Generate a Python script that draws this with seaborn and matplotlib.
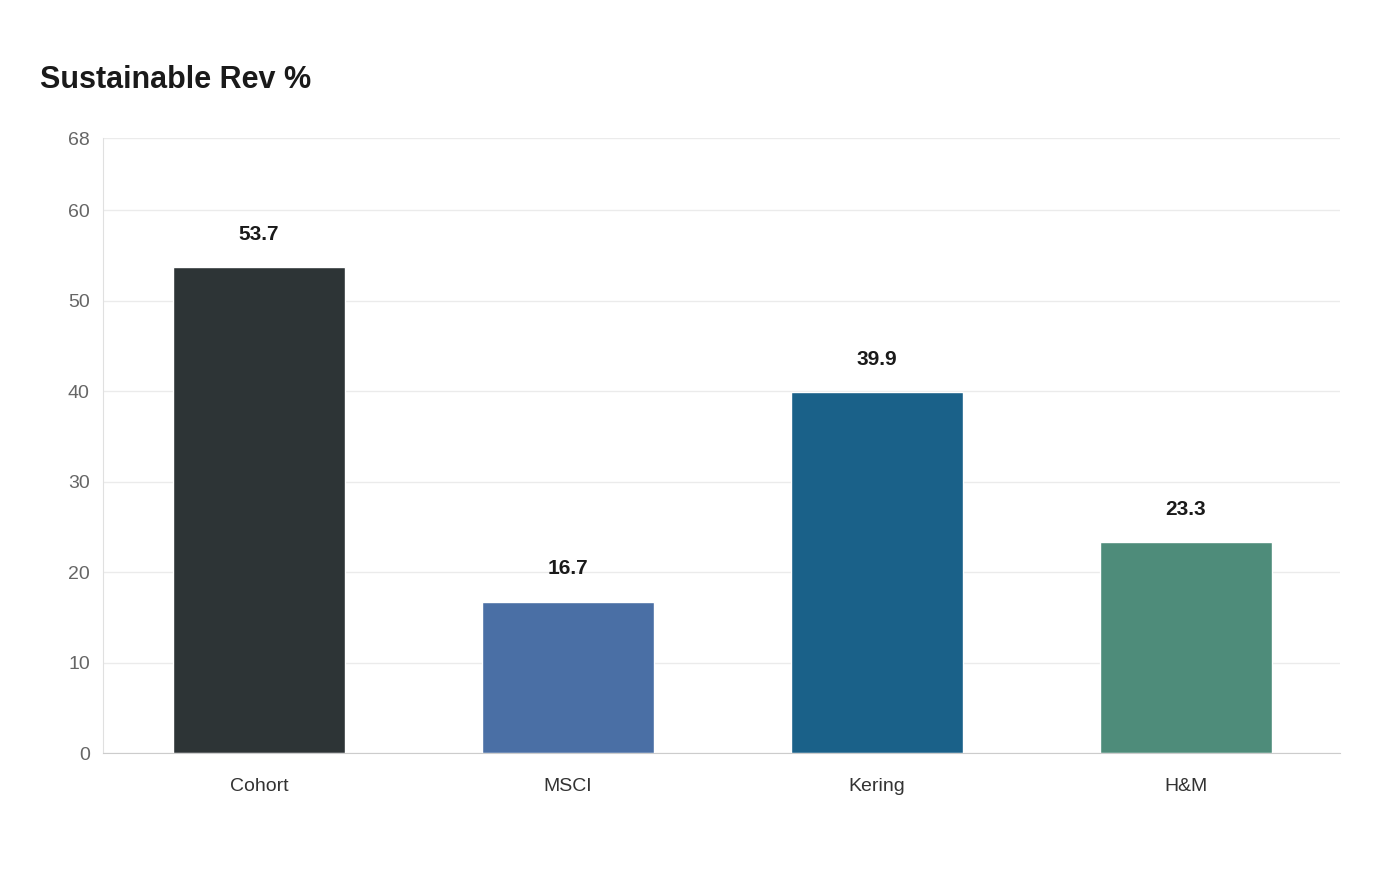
import matplotlib
matplotlib.use("Agg")
import matplotlib.pyplot as plt
import seaborn as sns
import pandas as pd

categories = ["Cohort", "MSCI", "Kering", "H&M"]
values = [53.7, 16.7, 39.9, 23.3]
colors = ["#2d3436", "#4a6fa5", "#1a6189", "#4e8c7a"]
yticks = [0, 10, 20, 30, 40, 50, 60, 68]

sns.set_style("white")
plt.rcParams["font.family"] = ["Liberation Sans", "DejaVu Sans"]

fig = plt.figure(figsize=(14, 8.8), dpi=100)
ax = fig.add_axes([103/1400, 1-753/880, (1340-103)/1400, (753-138)/880])
df = pd.DataFrame({"cat": categories, "val": values})
sns.barplot(data=df, x="cat", y="val", hue="cat", palette=colors, width=0.557,
            legend=False, ax=ax, saturation=1)
ax.set_xlim(-0.505, 3.5)
ax.set_ylim(0, 68)
ax.set_yticks(yticks)
ax.grid(axis="y", color="#ebebeb", linewidth=1)
ax.set_axisbelow(True)
for s in ["top", "right"]:
    ax.spines[s].set_visible(False)
ax.spines["left"].set_color("#e0e0e0")
ax.spines["bottom"].set_color("#cccccc")
ax.tick_params(axis="y", colors="#666666", labelsize=14, length=6, color="#e0e0e0")
ax.tick_params(axis="x", colors="#333333", labelsize=14, length=0, pad=18)
ax.set_xlabel("")
ax.set_ylabel("")
for i, v in enumerate(values):
    ax.text(i, v + 2.6, f"{v}", ha="center", va="bottom", fontsize=15,
            fontweight="bold", color="#1a1a1a")
fig.text(40/1400, 1-80/880, "Sustainable Rev %", fontsize=22, fontweight="bold",
         color="#1a1a1a", va="center")
fig.savefig("out.png")
